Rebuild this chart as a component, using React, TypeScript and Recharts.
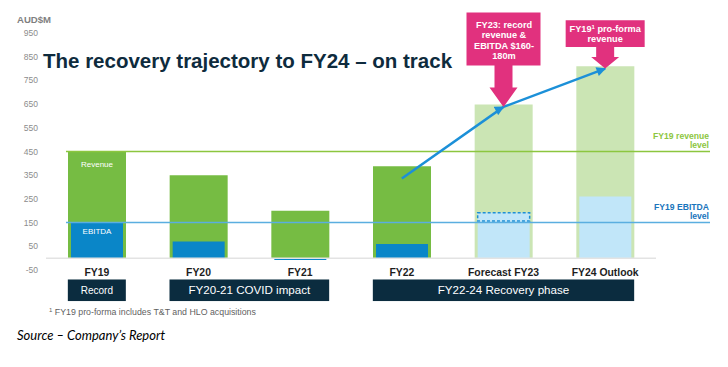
import React from 'react';
import {
  ComposedChart,
  Bar,
  Line,
  XAxis,
  YAxis,
  Cell,
  ReferenceLine,
  ReferenceArea,
  ReferenceDot,
  LabelList,
} from 'recharts';

// ---------- data ----------
const categories = ['FY19', 'FY20', 'FY21', 'FY22', 'Forecast FY23', 'FY24 Outlook'];
const revenue = [450, 350, 200, 388, 648, 810];
const ebitda = [150, 70, -8, 60, 157, 260];
const ebitdaGuidanceBand = [null, null, null, null, 35, null];
const trajectory = [null, null, null, 336, 638, 800];
const isOutlook = [false, false, false, false, true, true];
const revenueTag = ['Revenue', null, null, null, null, null];
const ebitdaTag = ['EBITDA', null, null, null, null, null];
const yTicks = [-50, 50, 150, 250, 350, 450, 550, 650, 750, 850, 950];
const fy19RevenueLevel = 450;
const fy19EbitdaLevel = 150;
const phaseLabels = ['Record', 'FY20-21 COVID impact', 'FY22-24 Recovery phase'];
const phaseFrom = ['FY19', 'FY20', 'FY22'];
const phaseTo = ['FY19', 'FY21', 'FY24 Outlook'];
const phaseValueRange = [-90, -181];
const calloutFY23Lines = ['FY23: record', 'revenue &', 'EBITDA $160-', '180m'];
const calloutFY24Lines = ['FY19', '1', ' pro-forma', 'revenue'];
const calloutFY23Anchor = { x: 'Forecast FY23', y: 638 };
const calloutFY24Anchor = { x: 'FY24 Outlook', y: 800 };

const data = categories.map((category, i) => ({
  category,
  revenue: revenue[i],
  ebitda: ebitda[i],
  ebitdaBand: ebitdaGuidanceBand[i],
  trajectory: trajectory[i],
  revenueTag: revenueTag[i],
  ebitdaTag: ebitdaTag[i],
}));

// ---------- styles ----------
const W = 728;
const H = 367;
const PAD_RIGHT = 54;
const REV_BAR = 58;
const EB_BAR = 52;
const GREEN = '#76bc43';
const LIGHT_GREEN = '#cbe5b4';
const BLUE = '#0a86c8';
const LIGHT_BLUE = '#c1e6f9';
const DASH_BLUE = '#1e8fd5';
const TREND = '#1c90d8';
const MAGENTA = '#e1317e';
const NAVY = '#0b2c3f';
const FONT = '"Liberation Sans", Arial, sans-serif';

const CategoryTick = (props: any) => {
  const { x, y, payload } = props;
  return (
    <text x={x} y={y + 6} textAnchor="middle" fontSize={10.4} fontWeight="bold" fill="#1e1e1e" fontFamily={FONT}>
      {payload.value}
    </text>
  );
};

const PhaseBox = (props: any) => {
  const { x, y, width, height, count } = props;
  const band = width / count;
  const inset = (band - REV_BAR) / 2;
  return <rect x={x + inset} y={y} width={width - 2 * inset} height={height} fill={NAVY} />;
};

const levelLabel = (lines: string[], color: string) => (p: any) => {
  const vb = p.viewBox || {};
  const right = vb.x + vb.width - 1;
  return (
    <g>
      <text x={right} y={vb.y - 13} textAnchor="end" fontSize={8.6} fontWeight="bold" fill={color} fontFamily={FONT}>
        {lines[0]}
      </text>
      <text x={right} y={vb.y - 4} textAnchor="end" fontSize={8.6} fontWeight="bold" fill={color} fontFamily={FONT}>
        {lines[1]}
      </text>
    </g>
  );
};

const levelLine = (color: string, width: number) => (p: any) => (
  <line x1={p.x1 + 20} y1={p.y1} x2={p.x2} y2={p.y2} stroke={color} strokeWidth={width} />
);

const zeroLine = (p: any) => (
  <line x1={p.x1} y1={p.y1} x2={p.x2 - PAD_RIGHT} y2={p.y2} stroke="#e3e3e3" strokeWidth={1.5} />
);

const CalloutFY23 = (p: any) => {
  const { cx, cy } = p;
  const half = 37;
  const top = cy - 94.4;
  const bot = cy - 41.4;
  const headTop = cy - 19.4;
  const sh = 9;
  const hh = 14;
  const d = `M${cx - half},${top} H${cx + half} V${bot} H${cx + sh} V${headTop} H${cx + hh} L${cx},${cy} L${cx - hh},${headTop} H${cx - sh} V${bot} H${cx - half} Z`;
  return (
    <g>
      <path d={d} fill={MAGENTA} />
      {calloutFY23Lines.map((t, i) => (
        <text key={i} x={cx + 0.5} y={top + 15.3 + i * 10.4} textAnchor="middle" fontSize={9.2} fontWeight="bold" fill="#fff" fontFamily={FONT}>
          {t}
        </text>
      ))}
    </g>
  );
};

const CalloutFY24 = (p: any) => {
  const { cx, cy } = p;
  const half = 39.5;
  const top = cy - 48.3;
  const bot = cy - 21.6;
  const headTop = cy - 11.6;
  const sh = 9;
  const hh = 14;
  const d = `M${cx - half},${top} H${cx + half} V${bot} H${cx + sh} V${headTop} H${cx + hh} L${cx},${cy} L${cx - hh},${headTop} H${cx - sh} V${bot} H${cx - half} Z`;
  return (
    <g>
      <path d={d} fill={MAGENTA} />
      <text x={cx} y={top + 11.5} textAnchor="middle" fontSize={9.2} fontWeight="bold" fill="#fff" fontFamily={FONT}>
        {calloutFY24Lines[0]}
        <tspan fontSize={6} dy={-3}>{calloutFY24Lines[1]}</tspan>
        <tspan dy={3}>{calloutFY24Lines[2]}</tspan>
      </text>
      <text x={cx} y={top + 22.2} textAnchor="middle" fontSize={9.2} fontWeight="bold" fill="#fff" fontFamily={FONT}>
        {calloutFY24Lines[3]}
      </text>
    </g>
  );
};

const tagLabel = (dy: number) => (p: any) => {
  if (p.value == null) return null;
  return (
    <text x={p.x + p.width / 2} y={p.y + dy} textAnchor="middle" fontSize={8} fill="#fff" fontFamily={FONT}>
      {p.value}
    </text>
  );
};

export default function App() {
  return (
    <div style={{ position: 'absolute', left: 0, top: 0, width: W, height: H, background: '#fff', fontFamily: FONT }}>
      <svg width={0} height={0} style={{ position: 'absolute' }}>
        <defs>
          <marker id="trendArrow" viewBox="0 0 10 10" refX={9} refY={5} markerWidth={4.2} markerHeight={3.8} orient="auto" markerUnits="strokeWidth">
            <path d="M0,0 L10,5 L0,10 z" fill={TREND} />
          </marker>
        </defs>
      </svg>
      <ComposedChart width={W} height={H} data={data} margin={{ top: 33, right: 18, bottom: 67, left: 6 }}>
        <XAxis
          dataKey="category"
          padding={{ left: 0, right: PAD_RIGHT }}
          axisLine={false}
          tickLine={false}
          tickSize={0}
          tickMargin={0}
          interval={0}
          height={30}
          tick={<CategoryTick />}
        />
        <XAxis xAxisId="e" dataKey="category" padding={{ left: 0, right: PAD_RIGHT }} hide />
        <YAxis
          domain={[-50, 950]}
          ticks={yTicks}
          interval={0}
          width={40}
          axisLine={false}
          tickLine={false}
          allowDataOverflow
          tick={{ fill: '#8c8c8c', fontSize: 8.5, fontFamily: FONT }}
        />
        <ReferenceLine y={0} shape={zeroLine} ifOverflow="visible" />
        <Bar dataKey="revenue" barSize={REV_BAR} isAnimationActive={false}>
          {data.map((d, i) => (
            <Cell key={i} fill={isOutlook[i] ? LIGHT_GREEN : GREEN} />
          ))}
          <LabelList dataKey="revenueTag" content={tagLabel(15.3)} />
        </Bar>
        <Bar dataKey="ebitda" xAxisId="e" stackId="e" barSize={EB_BAR} isAnimationActive={false}>
          {data.map((d, i) => (
            <Cell key={i} fill={isOutlook[i] ? LIGHT_BLUE : BLUE} />
          ))}
          <LabelList dataKey="ebitdaTag" content={tagLabel(11)} />
        </Bar>
        <Bar
          dataKey="ebitdaBand"
          xAxisId="e"
          stackId="e"
          barSize={EB_BAR}
          fill={LIGHT_BLUE}
          stroke={DASH_BLUE}
          strokeWidth={1.5}
          strokeDasharray="3 2"
          isAnimationActive={false}
        />
        <ReferenceLine
          y={fy19RevenueLevel}
          stroke="#8cc63f"
          shape={levelLine('#8cc63f', 1.5)}
          label={levelLabel(['FY19 revenue', 'level'], '#8dc63f')}
        />
        <ReferenceLine
          y={fy19EbitdaLevel}
          stroke="#5aaee0"
          shape={levelLine('#5aaee0', 1.5)}
          label={levelLabel(['FY19 EBITDA', 'level'], '#1a75bc')}
        />
        {phaseLabels.map((label, i) => {
          const count = categories.indexOf(phaseTo[i]) - categories.indexOf(phaseFrom[i]) + 1;
          return (
            <ReferenceArea
              key={label}
              x1={phaseFrom[i]}
              x2={phaseTo[i]}
              y1={phaseValueRange[0]}
              y2={phaseValueRange[1]}
              ifOverflow="visible"
              shape={(p: any) => <PhaseBox {...p} count={count} />}
              label={{ value: label, position: 'center', fill: '#fff', fontSize: i === 0 ? 10 : 11.6, fontFamily: FONT }}
            />
          );
        })}
        <Line
          dataKey="trajectory"
          stroke={TREND}
          strokeWidth={2.5}
          dot={false}
          activeDot={false}
          isAnimationActive={false}
          markerMid="url(#trendArrow)"
          markerEnd="url(#trendArrow)"
        />
        <ReferenceDot x={calloutFY23Anchor.x} y={calloutFY23Anchor.y} r={0} ifOverflow="visible" shape={CalloutFY23} />
        <ReferenceDot x={calloutFY24Anchor.x} y={calloutFY24Anchor.y} r={0} ifOverflow="visible" shape={CalloutFY24} />
      </ComposedChart>
      <svg width={W} height={H} style={{ position: 'absolute', left: 0, top: 0, pointerEvents: 'none' }}>
        <text x={17} y={22.5} fontSize={9.6} fontWeight="bold" fill="#7f7f7f" fontFamily={FONT}>
          AUD$M
        </text>
        <text x={43} y={68.3} fontSize={20.5} fontWeight="bold" fill="#0e2b3d" fontFamily={FONT}>
          The recovery trajectory to FY24 – on track
        </text>
        <text x={49} y={314.5} fontSize={8.8} fill="#5f5f5f" fontFamily={FONT}>
          <tspan fontSize={6} dy={-3}>1</tspan>
          <tspan dy={3}> FY19 pro-forma includes T&amp;T and HLO acquisitions</tspan>
        </text>
        <text x={17} y={339.5} fontSize={13} fontStyle="italic" fill="#000" fontFamily="Lato, 'Open Sans', sans-serif">
          Source – Company’s Report
        </text>
      </svg>
    </div>
  );
}
